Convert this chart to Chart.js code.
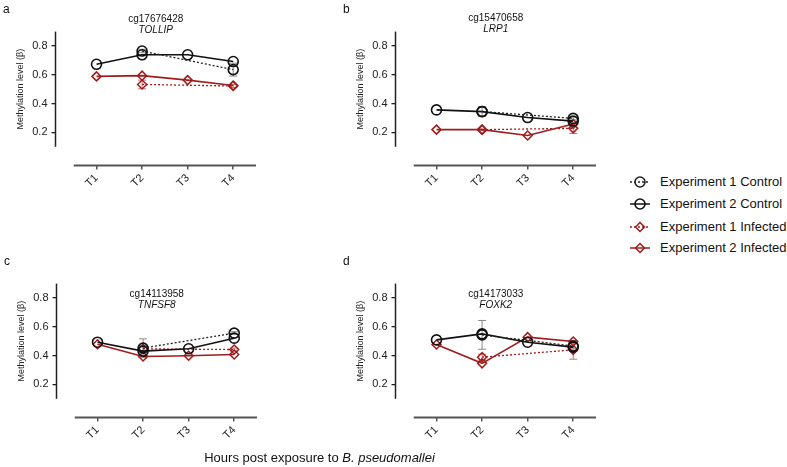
<!DOCTYPE html>
<html>
<head>
<meta charset="utf-8">
<script src="https://cdn.jsdelivr.net/npm/chart.js@4/dist/chart.umd.min.js"></script>
<style>
  body { margin: 0; background: #fff; font-family: "Liberation Sans", Arial, sans-serif; }
  #page { position: relative; width: 787px; height: 467px; overflow: hidden; }
  .panel { position: absolute; }
  .legend-row { position: absolute; left: 629px; height: 16px; font-size: 13px; color: #111; white-space: nowrap; }
  .legend-row svg { position: absolute; left: 0; top: 1px; }
  .legend-row span { position: absolute; left: 31px; top: 0; line-height: 16px; }
  #xtitle { position: absolute; left: 0; width: 639px; top: 450px; text-align: center; font-size: 13px; line-height: 16px; color: #111; }
</style>
</head>
<body>
<div id="page">
  <canvas id="panelA" class="panel" width="280" height="230" style="left:0px;top:0px"></canvas>
  <canvas id="panelB" class="panel" width="280" height="230" style="left:340px;top:0px"></canvas>
  <canvas id="panelC" class="panel" width="280" height="230" style="left:1px;top:252px"></canvas>
  <canvas id="panelD" class="panel" width="280" height="230" style="left:340px;top:252px"></canvas>
  <div id="legend"></div>
  <div id="xtitle">Hours post exposure to <i>B. pseudomallei</i></div>
</div>
<script>
// --- data ---
const timePoints = ['T1', 'T2', 'T3', 'T4'];
const yTickValues = [0.2, 0.4, 0.6, 0.8];
const seriesNames = ['Experiment 1 Control', 'Experiment 2 Control', 'Experiment 1 Infected', 'Experiment 2 Infected'];
const panelLetters = ['a', 'b', 'c', 'd'];
const probeIds = ['cg17676428', 'cg15470658', 'cg14113958', 'cg14173033'];
const geneNames = ['TOLLIP', 'LRP1', 'TNFSF8', 'FOXK2'];
const yAxisTitle = 'Methylation level (β)';

// TOLLIP
const tollipExp1Control = [null, 0.765, null, 0.636];
const tollipExp1ControlErr = [0, 0.012, 0, 0.045];
const tollipExp2Control = [0.673, 0.739, 0.739, 0.692];
const tollipExp1Infected = [null, 0.533, null, 0.522];
const tollipExp1InfectedErr = [0, 0.03, 0, 0.01];
const tollipExp2Infected = [0.589, 0.594, 0.563, 0.526];

// LRP1
const lrp1Exp1Control = [null, 0.345, null, 0.297];
const lrp1Exp1ControlErr = [0, 0.035, 0, 0.01];
const lrp1Exp2Control = [0.356, 0.344, 0.303, 0.278];
const lrp1Exp1Infected = [null, 0.219, null, 0.228];
const lrp1Exp1InfectedErr = [0, 0.005, 0, 0.035];
const lrp1Exp2Infected = [0.219, 0.219, 0.178, 0.258];

// TNFSF8
const tnfsf8Exp1Control = [null, 0.452, null, 0.556];
const tnfsf8Exp1ControlErr = [0, 0.064, 0, 0.01];
const tnfsf8Exp2Control = [0.493, 0.431, 0.447, 0.521];
const tnfsf8Exp1Infected = [null, 0.447, null, 0.442];
const tnfsf8Exp1InfectedErr = [0, 0.02, 0, 0.01];
const tnfsf8Exp2Infected = [0.479, 0.394, 0.399, 0.408];

// FOXK2
const foxk2Exp1Control = [null, 0.544, null, 0.466];
const foxk2Exp1ControlErr = [0, 0.1, 0, 0.02];
const foxk2Exp2Control = [0.509, 0.551, 0.493, 0.459];
const foxk2Exp1Infected = [null, 0.389, null, 0.44];
const foxk2Exp1InfectedErr = [0, 0.02, 0, 0.065];
const foxk2Exp2Infected = [0.477, 0.346, 0.528, 0.498];

// --- styling ---
const BLACK = '#111';
const RED = '#a01c1c';
Chart.defaults.font.family = '"Liberation Sans", Arial, sans-serif';
Chart.defaults.color = '#222';

const panels = [
  { id: 'panelA', exp1C: tollipExp1Control, exp1CErr: tollipExp1ControlErr, exp2C: tollipExp2Control,
    exp1I: tollipExp1Infected, exp1IErr: tollipExp1InfectedErr, exp2I: tollipExp2Infected, titleY: [19.5, 30.5] },
  { id: 'panelB', exp1C: lrp1Exp1Control, exp1CErr: lrp1Exp1ControlErr, exp2C: lrp1Exp2Control,
    exp1I: lrp1Exp1Infected, exp1IErr: lrp1Exp1InfectedErr, exp2I: lrp1Exp2Infected, titleY: [18, 29] },
  { id: 'panelC', exp1C: tnfsf8Exp1Control, exp1CErr: tnfsf8Exp1ControlErr, exp2C: tnfsf8Exp2Control,
    exp1I: tnfsf8Exp1Infected, exp1IErr: tnfsf8Exp1InfectedErr, exp2I: tnfsf8Exp2Infected, titleY: [42, 53] },
  { id: 'panelD', exp1C: foxk2Exp1Control, exp1CErr: foxk2Exp1ControlErr, exp2C: foxk2Exp2Control,
    exp1I: foxk2Exp1Infected, exp1IErr: foxk2Exp1InfectedErr, exp2I: foxk2Exp2Infected, titleY: [42, 53] }
];

function toPoints(vals) {
  return vals.map((v, i) => ({ x: i + 1, y: v }));
}

// error bars, detached axis lines, titles
function makeDecor(p, idx) {
  return {
    id: 'decor' + idx,
    beforeDatasetsDraw(chart) {
      const { ctx, scales: { x, y } } = chart;
      const bars = [
        { vals: p.exp1C, err: p.exp1CErr, color: '#8a8a8a' },
        { vals: p.exp1I, err: p.exp1IErr, color: '#c87070' }
      ];
      ctx.save();
      ctx.lineWidth = 1;
      bars.forEach(b => {
        ctx.strokeStyle = b.color;
        b.vals.forEach((v, i) => {
          if (v == null || !b.err[i]) return;
          const px = x.getPixelForValue(i + 1);
          const top = y.getPixelForValue(v + b.err[i]);
          const bot = y.getPixelForValue(v - b.err[i]);
          ctx.beginPath();
          ctx.moveTo(px, top); ctx.lineTo(px, bot);
          ctx.moveTo(px - 4, top); ctx.lineTo(px + 4, top);
          ctx.moveTo(px - 4, bot); ctx.lineTo(px + 4, bot);
          ctx.stroke();
        });
      });
      ctx.restore();
    },
    afterDraw(chart) {
      const { ctx, chartArea, scales: { x, y } } = chart;
      const yTop = y.getPixelForValue(0.9);
      const yBot = y.getPixelForValue(0.1);
      ctx.save();
      // y axis line
      ctx.strokeStyle = '#222';
      ctx.lineWidth = 1.5;
      ctx.beginPath();
      ctx.moveTo(chartArea.left, yTop);
      ctx.lineTo(chartArea.left, yBot);
      ctx.stroke();
      // x axis line
      ctx.strokeStyle = '#555';
      ctx.lineWidth = 2;
      ctx.beginPath();
      ctx.moveTo(x.getPixelForValue(0.5), chartArea.bottom);
      ctx.lineTo(x.getPixelForValue(4.5), chartArea.bottom);
      ctx.stroke();
      // y axis title, centred on the drawn axis line
      ctx.fillStyle = '#222';
      ctx.font = '9px "Liberation Sans", Arial, sans-serif';
      ctx.textAlign = 'center';
      ctx.textBaseline = 'middle';
      ctx.save();
      ctx.translate(21, (yTop + yBot) / 2);
      ctx.rotate(-Math.PI / 2);
      ctx.fillText(yAxisTitle, 0, 0);
      ctx.restore();
      // titles
      const cx = (chartArea.left + chartArea.right) / 2;
      ctx.fillStyle = '#111';
      ctx.font = '10px "Liberation Sans", Arial, sans-serif';
      ctx.fillText(probeIds[idx], cx, p.titleY[0]);
      ctx.font = 'italic 10px "Liberation Sans", Arial, sans-serif';
      ctx.fillText(geneNames[idx], cx, p.titleY[1]);
      // panel letter
      ctx.textAlign = 'left';
      ctx.font = '12px "Liberation Sans", Arial, sans-serif';
      ctx.fillText(panelLetters[idx], 3, 10);
      ctx.restore();
    }
  };
}

panels.forEach((p, idx) => {
  new Chart(document.getElementById(p.id), {
    type: 'line',
    data: {
      datasets: [
        { label: seriesNames[0], data: toPoints(p.exp1C), spanGaps: true,
          borderColor: '#222', borderWidth: 1.3, borderDash: [2, 2],
          pointStyle: 'circle', pointRadius: 5, pointBorderWidth: 1.6,
          pointBorderColor: BLACK, pointBackgroundColor: 'transparent' },
        { label: seriesNames[1], data: toPoints(p.exp2C),
          borderColor: BLACK, borderWidth: 1.6,
          pointStyle: 'circle', pointRadius: 5, pointBorderWidth: 1.6,
          pointBorderColor: BLACK, pointBackgroundColor: 'transparent' },
        { label: seriesNames[2], data: toPoints(p.exp1I), spanGaps: true,
          borderColor: RED, borderWidth: 1.3, borderDash: [2, 2],
          pointStyle: 'rectRot', pointRadius: 4.5, pointBorderWidth: 1.5,
          pointBorderColor: RED, pointBackgroundColor: 'transparent' },
        { label: seriesNames[3], data: toPoints(p.exp2I),
          borderColor: RED, borderWidth: 1.6,
          pointStyle: 'rectRot', pointRadius: 4.5, pointBorderWidth: 1.5,
          pointBorderColor: RED, pointBackgroundColor: 'transparent' }
      ]
    },
    options: {
      responsive: false,
      animation: false,
      events: [],
      layout: { padding: { left: 12, top: 31.6, right: 24, bottom: 0 } },
      plugins: { legend: { display: false }, tooltip: { enabled: false } },
      scales: {
        x: {
          type: 'linear', min: 0.1, max: 4.5,
          afterBuildTicks: s => { s.ticks = timePoints.map((t, i) => ({ value: i + 1 })); },
          afterFit: s => { s.height = 64.5; },
          ticks: { autoSkip: false, minRotation: 45, maxRotation: 45, padding: 2,
                   font: { size: 11 }, color: '#222',
                   callback: v => timePoints[Math.round(v) - 1] },
          grid: { drawOnChartArea: false, tickLength: 4, color: '#555', lineWidth: 1.5 },
          border: { display: false }
        },
        y: {
          min: -0.03, max: 0.9,
          afterBuildTicks: s => { s.ticks = yTickValues.map(v => ({ value: v })); },
          afterFit: s => { s.width = 43.5; },
          ticks: { padding: 4, font: { size: 11 }, color: '#222', callback: v => v.toFixed(1) },
          grid: { drawOnChartArea: false, tickLength: 4, color: '#222', lineWidth: 1.3 },
          border: { display: false }
        }
      }
    },
    plugins: [makeDecor(p, idx)]
  });
});

// --- legend ---
const legendRows = [
  { dash: '2,2', color: '#222', marker: 'circle', y: 174 },
  { dash: '', color: BLACK, marker: 'circle', y: 196 },
  { dash: '2,2', color: RED, marker: 'diamond', y: 218.5 },
  { dash: '', color: RED, marker: 'diamond', y: 240 }
];
const legend = document.getElementById('legend');
legendRows.forEach((r, i) => {
  const row = document.createElement('div');
  row.className = 'legend-row';
  row.style.top = r.y + 'px';
  const mark = r.marker === 'circle'
    ? `<circle cx="11" cy="7" r="5" fill="none" stroke="${r.color}" stroke-width="1.6"/>`
    : `<path d="M11 2.5 L15.5 7 L11 11.5 L6.5 7 Z" fill="none" stroke="${r.color}" stroke-width="1.5"/>`;
  row.innerHTML = `<svg width="22" height="14"><line x1="1" y1="7" x2="21" y2="7" stroke="${r.color}" stroke-width="1.5" ${r.dash ? `stroke-dasharray="${r.dash}"` : ''}/>${mark}</svg><span>${seriesNames[i]}</span>`;
  legend.appendChild(row);
});
</script>
</body>
</html>
